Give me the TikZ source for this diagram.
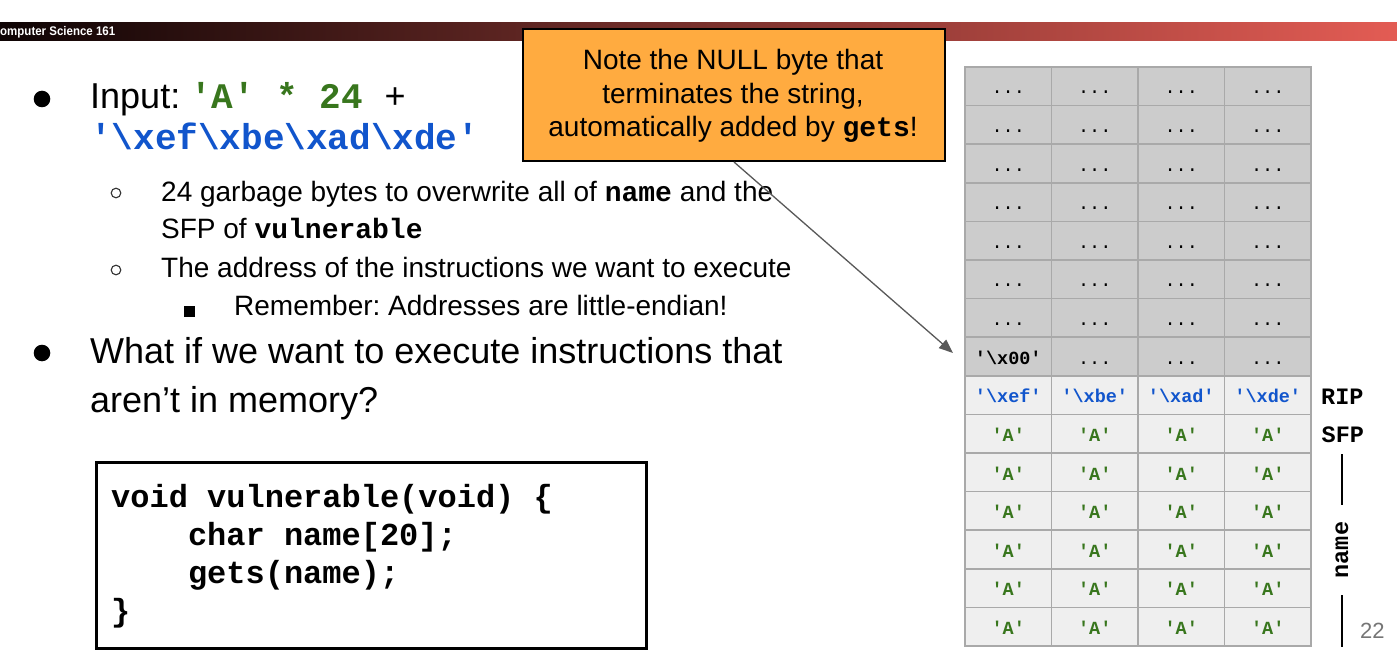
\documentclass[tikz,border=0pt]{standalone}
\usepackage{fontspec}
\setmainfont{Liberation Sans}
\setmonofont{Liberation Mono}
\usetikzlibrary{arrows.meta}
\frenchspacing
\definecolor{cgreen}{HTML}{38761D}
\definecolor{cblue}{HTML}{1155CC}
\definecolor{corange}{HTML}{FFAB40}
\definecolor{cellgray}{HTML}{CCCCCC}
\definecolor{celllight}{HTML}{EFEFEF}
\definecolor{gridgray}{HTML}{A9A9A9}
\definecolor{arrowgray}{HTML}{595959}
\definecolor{hdrleft}{HTML}{0E0404}
\definecolor{hdrmid}{HTML}{81332F}
\definecolor{hdrright}{HTML}{E35C54}
\definecolor{pagegray}{HTML}{757575}
\newcommand{\fsz}[1]{\fontsize{#1}{#1}\selectfont}
\newcommand{\mb}[1]{{\ttfamily\bfseries #1}}
\begin{document}
\begin{tikzpicture}[x=1pt,y=-1pt,
  txt/.style={anchor=base west, inner sep=0pt},
  ctxt/.style={anchor=base, inner sep=0pt, font=\fsz{28}},
  cell/.style={draw=gridgray, line width=1.6pt, minimum width=86.5pt, minimum height=38.6pt,
    inner sep=0pt, text height=15.4pt, text depth=0pt, font=\ttfamily\fsz{18.5}},
  grayc/.style={cell, fill=cellgray},
  lightc/.style={cell, fill=celllight},
  lbl/.style={inner sep=0pt, font=\ttfamily\bfseries\fsz{23.5}},
  conn/.style={arrowgray, line width=1.3pt, -{Triangle[length=14pt,width=11pt]}},
  bracket/.style={black, line width=1.2pt}]
\path[use as bounding box] (0,0) rectangle (1397,660);
\clip (0,0) rectangle (1397,660);
\fill[white] (0,0) rectangle (1397,660);
% header bar
\shade[left color=hdrleft, middle color=hdrmid, right color=hdrright] (0,23) rectangle (1397,41);
\node[txt, text=white, font=\bfseries\fsz{12.5}] (hdr) at (-8.3,36) {\scalebox{0.92}[1]{Computer Science 161}};

% bullets
\fill (42,99) circle (8.3);
\draw[line width=1.1pt, black!80] (116,193) circle (4.8);
\draw[line width=1.1pt, black!80] (116,270) circle (4.8);
\fill (183.5,305.5) rectangle (194.5,316.5);
\fill (42,353) circle (8.3);

\node[txt, font=\fsz{36}] (in1) at (90,109) {Input: {\color{cgreen}\mb{'A' * 24 }}+};
\node[txt, font=\fsz{36}] (in2) at (90,150) {\color{cblue}\mb{'\textbackslash xef\textbackslash xbe\textbackslash xad\textbackslash xde'}};
\node[txt, font=\fsz{28}] (s1a) at (161,201.5) {24 garbage bytes to overwrite all of \mb{name} and the};
\node[txt, font=\fsz{28}] (s1b) at (161,239) {SFP of \mb{vulnerable}};
\node[txt, font=\fsz{28}] (s2) at (161,277) {The address of the instructions we want to execute};
\node[txt, font=\fsz{28}] (s3) at (234,315) {Remember: Addresses are little-endian!};
\node[txt, font=\fsz{36}] (q1) at (90,363) {What if we want to execute instructions that};
\node[txt, font=\fsz{36}] (q2) at (90,412) {aren’t in memory?};

% code box
\node[draw=black, line width=3pt, minimum width=550pt, minimum height=186pt, inner sep=0pt, anchor=north west] (codebox) at (95,461) {};
\node[txt, font=\ttfamily\bfseries\fsz{32}] (code1) at (111,507) {void vulnerable(void) \{};
\node[txt, font=\ttfamily\bfseries\fsz{32}] (code2) at (111,545) {\ \ \ \ char name[20];};
\node[txt, font=\ttfamily\bfseries\fsz{32}] (code3) at (111,583) {\ \ \ \ gets(name);};
\node[txt, font=\ttfamily\bfseries\fsz{32}] (code4) at (111,621) {\}};

% stack table
\foreach \r in {0,...,6}{
  \foreach \c in {0,...,3}{
    \node[grayc] (c-\r-\c) at ({1008.25+86.5*\c},{86.3+38.6*\r}) {...};
  }
}
\node[grayc] (c-7-0) at (1008.25,{86.3+38.6*7}) {\bfseries '\textbackslash x00'};
\foreach \c in {1,2,3}{
  \node[grayc] (c-7-\c) at ({1008.25+86.5*\c},{86.3+38.6*7}) {...};
}
\node[lightc, text=cblue] (c-8-0) at (1008.25,{86.3+38.6*8}) {\bfseries '\textbackslash xef'};
\node[lightc, text=cblue] (c-8-1) at (1094.75,{86.3+38.6*8}) {\bfseries '\textbackslash xbe'};
\node[lightc, text=cblue] (c-8-2) at (1181.25,{86.3+38.6*8}) {\bfseries '\textbackslash xad'};
\node[lightc, text=cblue] (c-8-3) at (1267.75,{86.3+38.6*8}) {\bfseries '\textbackslash xde'};
\foreach \r in {9,...,14}{
  \foreach \c in {0,...,3}{
    \node[lightc, text=cgreen] (c-\r-\c) at ({1008.25+86.5*\c},{86.3+38.6*\r}) {\bfseries 'A'};
  }
}

% labels
\node[lbl, anchor=base west] (rip) at (1321,404) {RIP};
\node[lbl, anchor=base west] (sfp) at (1321.5,442) {SFP};
\node[lbl, rotate=90] (namelbl) at (1342,550) {name};
\coordinate (b1) at (1342,454);
\coordinate (b2) at (1342,505);
\coordinate (b3) at (1342,595);
\coordinate (b4) at (1342,647);
\draw[bracket] (b1) -- (b2);
\draw[bracket] (b3) -- (b4);
\node[txt, text=pagegray, font=\fsz{22}] (pagenum) at (1360,638) {22};

% callout
\node[draw=black, line width=2pt, fill=corange, minimum width=422pt, minimum height=132pt, inner sep=0pt, anchor=north west] (callout) at (522,28) {};
\node[ctxt] (n1) at (733,70) {Note the NULL byte that};
\node[ctxt] (n2) at (733,103.5) {terminates the string,};
\node[ctxt] (n3) at (733,137) {automatically added by \mb{gets}!};
\coordinate (tip) at (953,353);
\draw[conn] (callout.south) -- (tip);
\end{tikzpicture}
\end{document}
